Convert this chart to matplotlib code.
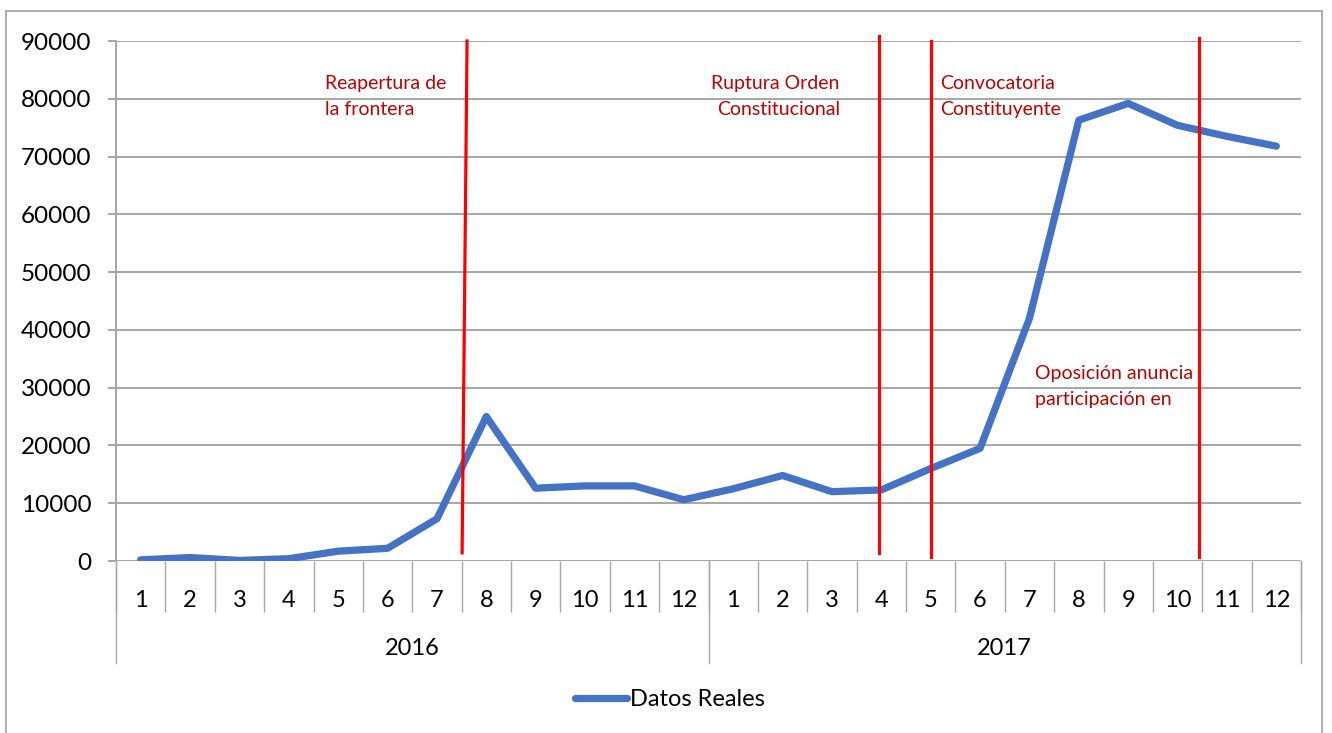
import matplotlib
matplotlib.use("Agg")
import matplotlib.pyplot as plt
import matplotlib.transforms as mtransforms
from matplotlib.lines import Line2D

plt.rcParams['font.family'] = ['Lato', 'DejaVu Sans']

# ---------------- data ----------------
years = ["2016", "2017"]
months = [str(m) for m in range(1, 13)]
values_2016 = [200, 600, 100, 400, 1700, 2200, 7300, 25000, 12600, 13000, 13000, 10600]
values_2017 = [12500, 14800, 12000, 12300, 16000, 19500, 42000, 76300, 79200, 75400, 73500, 71800]
series_name = "Datos Reales"

# event lines: (x_top, y_top, x_bottom, y_bottom) in category/data units
event_lines = [
    (6.61, 90000, 6.51, 1400),
    (14.95, 90900, 14.95, 1400),
    (16.01, 90000, 16.01, 700),
    (21.43, 90500, 21.43, 700),
]
# annotations: (x, [(y_baseline, text), ...], ha)
annotations = [
    (3.73, [(81700, "Reapertura de"), (77200, "la frontera")], "left"),
    (14.16, [(81700, "Ruptura Orden"), (77200, "Constitucional")], "right"),
    (16.19, [(81700, "Convocatoria"), (77200, "Constituyente")], "left"),
    (18.11, [(31500, "Oposición anuncia"), (27000, "participación en")], "left"),
]

values = values_2016 + values_2017
labels = months * len(years)
n = len(values)

W, H = 1332, 733
fig = plt.figure(figsize=(W / 100, H / 100), dpi=100)
ax = fig.add_axes([116 / W, 1 - 561 / H, (1301 - 116) / W, (561 - 41) / H])

grid_c = "#A6A6A6"
ax.set_xlim(-0.5, n - 0.5)
ax.set_ylim(0, 90000)
ax.set_yticks(range(0, 90001, 10000))
ax.yaxis.grid(True, color=grid_c, linewidth=1.4)
ax.set_axisbelow(True)
for s in ["top", "right", "bottom"]:
    ax.spines[s].set_visible(False)
ax.spines["left"].set_color(grid_c)
ax.spines["left"].set_linewidth(1.4)
ax.tick_params(axis="y", direction="out", length=5.8, width=1.4, color=grid_c,
               labelsize=17.5, pad=12, labelcolor="#000000")

ax.set_xticks(range(n))
ax.set_xticklabels(labels)
ax.tick_params(axis="x", which="major", length=0, labelsize=17, pad=21)
ax.set_xticks([i - 0.5 for i in range(n + 1)], minor=True)
ax.tick_params(axis="x", which="minor", direction="out", length=36.7, width=1.0, color=grid_c)

# group separators and year labels
trans = mtransforms.blended_transform_factory(ax.transData, ax.transAxes)
ybot = -(663 - 561) / (561 - 41)
for g in range(len(years) + 1):
    xg = g * 12 - 0.5
    ax.plot([xg, xg], [0, ybot], transform=trans, color=grid_c, lw=1.0, clip_on=False)
for g, yr in enumerate(years):
    ax.text(g * 12 + 5.5, -(655 - 561) / (561 - 41), yr, transform=trans,
            ha="center", va="baseline", fontsize=17)

# data line
ax.plot(range(n), values, color="#4472C4", lw=5.2, solid_joinstyle="round",
        solid_capstyle="round", zorder=3)

# event lines
for x0, y0, x1, y1 in event_lines:
    ax.plot([x0, x1], [y0, y1], color="#FF0000", lw=2.3, clip_on=False, zorder=4)

# annotation texts
for x, lines, ha in annotations:
    for yb, t in lines:
        ax.text(x, yb, t, color="#C00000", fontsize=14, ha=ha, va="baseline", zorder=5)

# legend
handle = Line2D([], [], color="#4472C4", lw=5.2, solid_capstyle="round")
fig.legend([handle], [series_name], loc="center", bbox_to_anchor=(670 / W, 1 - 700 / H),
           frameon=False, fontsize=17, handlelength=2.2, handletextpad=0.15)

# outer frame
frame_c = "#A0A0A0"
fl, fr, ft = 6 / W, 1322 / W, 1 - 11 / H
fig.add_artist(Line2D([fl, fr], [ft, ft], transform=fig.transFigure, color=frame_c, lw=1.2))
fig.add_artist(Line2D([fl, fl], [0, ft], transform=fig.transFigure, color=frame_c, lw=1.2))
fig.add_artist(Line2D([fr, fr], [0, ft], transform=fig.transFigure, color=frame_c, lw=1.2))

fig.savefig("out.png", dpi=100, facecolor="white")
